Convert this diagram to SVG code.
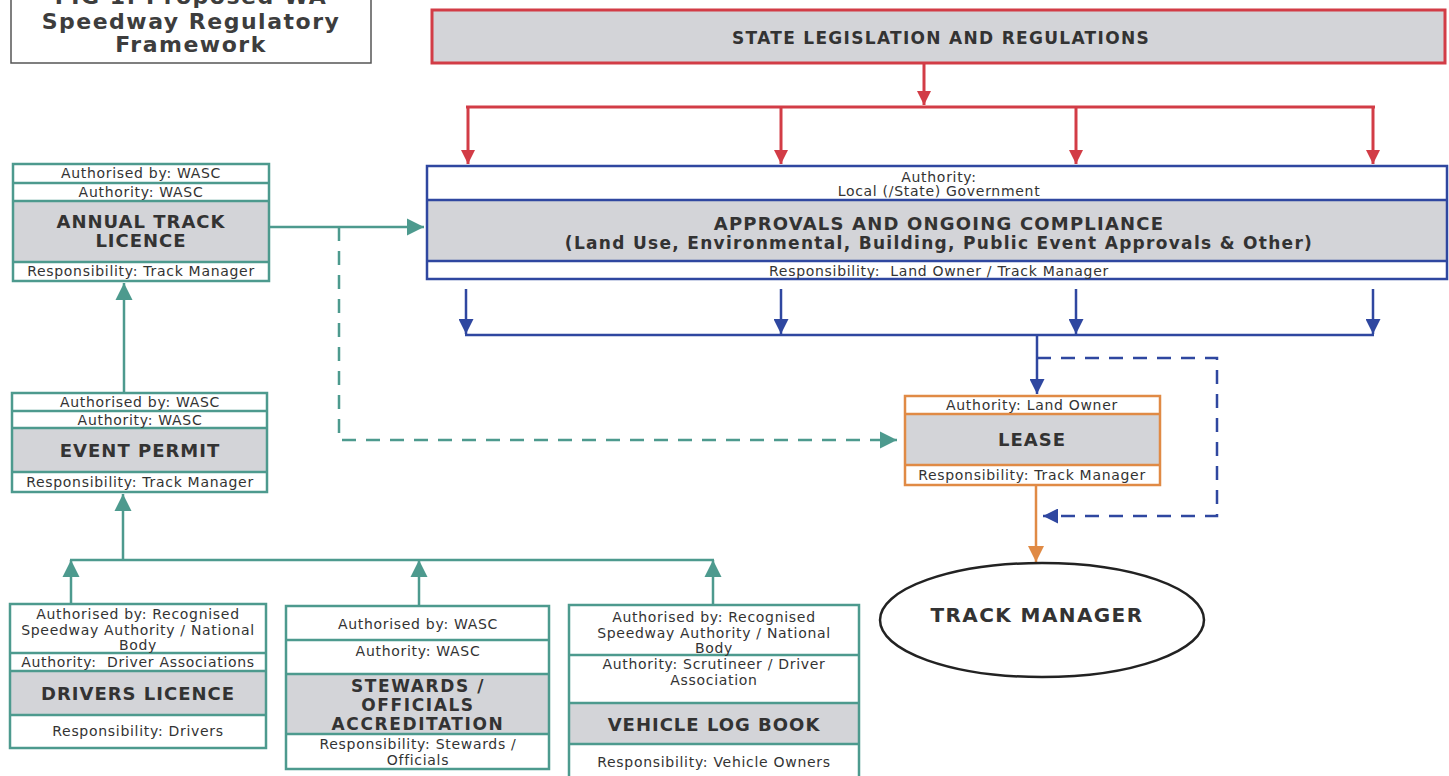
<svg xmlns="http://www.w3.org/2000/svg" width="1449" height="776" viewBox="0 0 1449 776">
<defs>
<marker id="mTeal" viewBox="0 0 10 10" refX="10" refY="5" markerUnits="userSpaceOnUse" markerWidth="17" markerHeight="18" orient="auto"><path d="M0,0 L10,5 L0,10 z" fill="#4d9a8e"/></marker>
<marker id="mRed" viewBox="0 0 10 10" refX="10" refY="5" markerUnits="userSpaceOnUse" markerWidth="16" markerHeight="14" orient="auto"><path d="M0,0 L10,5 L0,10 z" fill="#d23c46"/></marker>
<marker id="mBlue" viewBox="0 0 10 10" refX="10" refY="5" markerUnits="userSpaceOnUse" markerWidth="17" markerHeight="15" orient="auto"><path d="M0,0 L10,5 L0,10 z" fill="#2f47a0"/></marker>
<marker id="mOrange" viewBox="0 0 10 10" refX="10" refY="5" markerUnits="userSpaceOnUse" markerWidth="16" markerHeight="16" orient="auto"><path d="M0,0 L10,5 L0,10 z" fill="#e08a45"/></marker>
</defs>
<style>
.bg{fill:#ffffff}
.gray{fill:#d3d4d8}
.teal{fill:none;stroke:#4d9a8e;stroke-width:2.5}
.red{fill:none;stroke:#d23c46;stroke-width:3}
.blue{fill:none;stroke:#2f47a0;stroke-width:2.5}
.orange{fill:none;stroke:#e08a45;stroke-width:2.5}
.t{font-family:"DejaVu Sans",Verdana,sans-serif;font-size:14px;letter-spacing:0.7px;fill:#333;text-anchor:middle;white-space:pre}
.b{font-family:"DejaVu Sans",Verdana,sans-serif;font-size:18px;letter-spacing:1px;font-weight:bold;fill:#333;text-anchor:middle}
.s{font-family:"DejaVu Sans",Verdana,sans-serif;font-size:17px;letter-spacing:1.6px;font-weight:bold;fill:#333;text-anchor:middle}
.nb{font-family:"DejaVu Sans",Verdana,sans-serif;font-size:17px;letter-spacing:1.3px;font-weight:bold;fill:#333;text-anchor:middle}
.title{font-family:"DejaVu Sans",Verdana,sans-serif;font-size:22px;letter-spacing:1.5px;font-weight:bold;fill:#3d3d3d;text-anchor:middle}
.dash{stroke-dasharray:14 10}
</style>
<rect class="bg" x="0" y="0" width="1449" height="776"/>

<g id="title">
<rect x="11" y="-10" width="360" height="73" fill="#fff" stroke="#555" stroke-width="1.5"/>
<text class="title" x="191" y="4">FIG 1: Proposed WA</text>
<text class="title" x="191" y="29">Speedway Regulatory</text>
<text class="title" x="191" y="52">Framework</text>
</g>

<g id="connectors">
<line class="red" x1="924" y1="63" x2="924" y2="105" marker-end="url(#mRed)"/>
<line class="red" x1="466" y1="107" x2="1375" y2="107"/>
<line class="red" x1="468" y1="107" x2="468" y2="164" marker-end="url(#mRed)"/>
<line class="red" x1="781" y1="107" x2="781" y2="164" marker-end="url(#mRed)"/>
<line class="red" x1="1076" y1="107" x2="1076" y2="164" marker-end="url(#mRed)"/>
<line class="red" x1="1373" y1="107" x2="1373" y2="164" marker-end="url(#mRed)"/>
<line class="blue" x1="466" y1="289" x2="466" y2="334" marker-end="url(#mBlue)"/>
<line class="blue" x1="781" y1="289" x2="781" y2="334" marker-end="url(#mBlue)"/>
<line class="blue" x1="1076" y1="289" x2="1076" y2="334" marker-end="url(#mBlue)"/>
<line class="blue" x1="1373" y1="289" x2="1373" y2="334" marker-end="url(#mBlue)"/>
<line class="blue" x1="465" y1="335" x2="1374" y2="335"/>
<line class="blue" x1="1037" y1="335" x2="1037" y2="394" marker-end="url(#mBlue)"/>
<polyline class="blue dash" points="1037,358 1217,358 1217,516 1043,516" marker-end="url(#mBlue)"/>
<line class="orange" x1="1036" y1="485" x2="1036" y2="562" marker-end="url(#mOrange)"/>
<line class="teal" x1="269" y1="227" x2="424" y2="227" marker-end="url(#mTeal)"/>
<polyline class="teal dash" points="339,227 339,440 897,440" marker-end="url(#mTeal)"/>
<line class="teal" x1="124" y1="393" x2="124" y2="283" marker-end="url(#mTeal)"/>
<line class="teal" x1="123" y1="560" x2="123" y2="494" marker-end="url(#mTeal)"/>
<line class="teal" x1="70" y1="560" x2="714" y2="560"/>
<line class="teal" x1="71" y1="604" x2="71" y2="560" marker-end="url(#mTeal)"/>
<line class="teal" x1="419" y1="606" x2="419" y2="560" marker-end="url(#mTeal)"/>
<line class="teal" x1="713" y1="605" x2="713" y2="560" marker-end="url(#mTeal)"/>
</g>

<g id="state-legislation">
<rect x="432" y="10" width="1013" height="53" class="gray" stroke="#d23c46" stroke-width="3"/>
<text class="nb" x="941" y="44">STATE LEGISLATION AND REGULATIONS</text>
</g>

<g id="approvals">
<rect x="427" y="166" width="1020" height="113" fill="#fff"/>
<rect x="427" y="200" width="1020" height="61" class="gray"/>
<rect x="427" y="166" width="1020" height="113" class="blue"/>
<line class="blue" x1="427" y1="200" x2="1447" y2="200"/>
<line class="blue" x1="427" y1="261" x2="1447" y2="261"/>
<text class="t" x="939" y="182">Authority:</text>
<text class="t" x="939" y="196">Local (/State) Government</text>
<text class="nb" x="939" y="230" style="font-size:18px;letter-spacing:1.2px">APPROVALS AND ONGOING COMPLIANCE</text>
<text class="nb" x="939" y="249">(Land Use, Environmental, Building, Public Event Approvals &amp; Other)</text>
<text class="t" x="939" y="276">Responsibility:  Land Owner / Track Manager</text>
</g>

<g id="annual-track-licence">
<rect x="13" y="164" width="256" height="117" fill="#fff"/>
<rect x="13" y="201" width="256" height="61" class="gray"/>
<rect x="13" y="164" width="256" height="117" class="teal"/>
<line class="teal" x1="13" y1="183" x2="269" y2="183"/>
<line class="teal" x1="13" y1="201" x2="269" y2="201"/>
<line class="teal" x1="13" y1="262" x2="269" y2="262"/>
<text class="t" x="141" y="178">Authorised by: WASC</text>
<text class="t" x="141" y="197">Authority: WASC</text>
<text class="b" x="141" y="228">ANNUAL TRACK</text>
<text class="b" x="141" y="247">LICENCE</text>
<text class="t" x="141" y="276">Responsibility: Track Manager</text>
</g>

<g id="event-permit">
<rect x="12" y="393" width="255" height="99" fill="#fff"/>
<rect x="12" y="428" width="255" height="44" class="gray"/>
<rect x="12" y="393" width="255" height="99" class="teal"/>
<line class="teal" x1="12" y1="411" x2="267" y2="411"/>
<line class="teal" x1="12" y1="428" x2="267" y2="428"/>
<line class="teal" x1="12" y1="472" x2="267" y2="472"/>
<text class="t" x="140" y="407">Authorised by: WASC</text>
<text class="t" x="140" y="425">Authority: WASC</text>
<text class="b" x="140" y="457">EVENT PERMIT</text>
<text class="t" x="140" y="487">Responsibility: Track Manager</text>
</g>

<g id="drivers-licence">
<rect x="10" y="604" width="256" height="144" fill="#fff"/>
<rect x="10" y="671" width="256" height="44" class="gray"/>
<rect x="10" y="604" width="256" height="144" class="teal"/>
<line class="teal" x1="10" y1="653" x2="266" y2="653"/>
<line class="teal" x1="10" y1="671" x2="266" y2="671"/>
<line class="teal" x1="10" y1="715" x2="266" y2="715"/>
<text class="t" x="138" y="619">Authorised by: Recognised</text>
<text class="t" x="138" y="635">Speedway Authority / National</text>
<text class="t" x="138" y="650">Body</text>
<text class="t" x="138" y="667">Authority:  Driver Associations</text>
<text class="b" x="138" y="700">DRIVERS LICENCE</text>
<text class="t" x="138" y="736">Responsibility: Drivers</text>
</g>

<g id="stewards-accreditation">
<rect x="286" y="606" width="263" height="163" fill="#fff"/>
<rect x="286" y="674" width="263" height="60" class="gray"/>
<rect x="286" y="606" width="263" height="163" class="teal"/>
<line class="teal" x1="286" y1="640" x2="549" y2="640"/>
<line class="teal" x1="286" y1="674" x2="549" y2="674"/>
<line class="teal" x1="286" y1="734" x2="549" y2="734"/>
<text class="t" x="418" y="629">Authorised by: WASC</text>
<text class="t" x="418" y="656">Authority: WASC</text>
<text class="s" x="418" y="692">STEWARDS /</text>
<text class="s" x="418" y="711">OFFICIALS</text>
<text class="s" x="418" y="730">ACCREDITATION</text>
<text class="t" x="418" y="749">Responsibility: Stewards /</text>
<text class="t" x="418" y="765">Officials</text>
</g>

<g id="vehicle-log-book">
<rect x="569" y="605" width="290" height="175" fill="#fff"/>
<rect x="569" y="703" width="290" height="41" class="gray"/>
<rect x="569" y="605" width="290" height="175" class="teal"/>
<line class="teal" x1="569" y1="655" x2="859" y2="655"/>
<line class="teal" x1="569" y1="703" x2="859" y2="703"/>
<line class="teal" x1="569" y1="744" x2="859" y2="744"/>
<text class="t" x="714" y="622">Authorised by: Recognised</text>
<text class="t" x="714" y="638">Speedway Authority / National</text>
<text class="t" x="714" y="653">Body</text>
<text class="t" x="714" y="669">Authority: Scrutineer / Driver</text>
<text class="t" x="714" y="685">Association</text>
<text class="b" x="714" y="731">VEHICLE LOG BOOK</text>
<text class="t" x="714" y="767">Responsibility: Vehicle Owners</text>
</g>

<g id="lease">
<rect x="905" y="396" width="255" height="89" fill="#fff"/>
<rect x="905" y="414" width="255" height="51" class="gray"/>
<rect x="905" y="396" width="255" height="89" class="orange"/>
<line class="orange" x1="905" y1="414" x2="1160" y2="414"/>
<line class="orange" x1="905" y1="465" x2="1160" y2="465"/>
<text class="t" x="1032" y="410">Authority: Land Owner</text>
<text class="b" x="1032" y="446">LEASE</text>
<text class="t" x="1032" y="480">Responsibility: Track Manager</text>
</g>

<g id="track-manager">
<ellipse cx="1042" cy="620" rx="162" ry="57" fill="#fff" stroke="#222" stroke-width="2.5"/>
<text class="b" x="1037" y="622" style="font-size:20px;letter-spacing:1.4px">TRACK MANAGER</text>
</g>
</svg>
